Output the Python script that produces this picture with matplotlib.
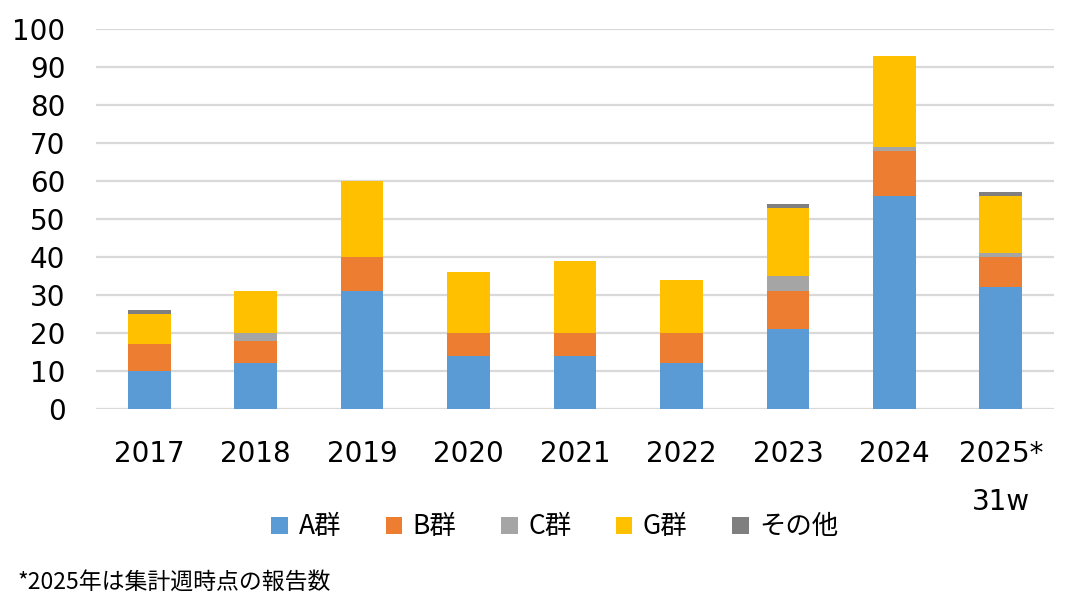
import matplotlib
matplotlib.use("Agg")
import matplotlib.pyplot as plt
import numpy as np

years = ["2017", "2018", "2019", "2020", "2021", "2022", "2023", "2024", "2025*\n31w"]
a_grp = [10, 12, 31, 14, 14, 12, 21, 56, 32]
b_grp = [7, 6, 9, 6, 6, 8, 10, 12, 8]
c_grp = [0, 2, 0, 0, 0, 0, 4, 1, 1]
g_grp = [8, 11, 20, 16, 19, 14, 18, 24, 15]
other = [1, 0, 0, 0, 0, 0, 1, 0, 1]

series_names = ["A群", "B群", "C群", "G群", "その他"]
series_vals = [a_grp, b_grp, c_grp, g_grp, other]
colors = ["#5B9BD5", "#ED7D31", "#A5A5A5", "#FFC000", "#7F7F7F"]
yticks = [0, 10, 20, 30, 40, 50, 60, 70, 80, 90, 100]
footnote = "*2025年は集計週時点の報告数"

cjk = ["Noto Sans CJK JP", "DejaVu Sans"]

fig = plt.figure(figsize=(10.82, 6.11), dpi=100)
ax = fig.add_axes([96/1082, 1-409/611, (1054-96)/1082, (409-29)/611])

x = np.arange(len(years))
bottom = np.zeros(len(years))
handles = []
for name, vals, col in zip(series_names, series_vals, colors):
    v = np.array(vals, dtype=float)
    h = ax.bar(x, v, width=0.4, bottom=bottom, color=col, label=name, zorder=3, linewidth=0)
    handles.append(h)
    bottom += v

ax.set_xlim(-0.5, len(years) - 0.5)
ax.set_ylim(0, 100)
ax.set_yticks(yticks)
ax.yaxis.grid(True, color="#D9D9D9", linewidth=1.6, zorder=0)
ax.set_axisbelow(True)
for s in ax.spines.values():
    s.set_visible(False)
ax.set_xticks(x)
ax.set_xticklabels(years, fontsize=20, family="DejaVu Sans")
for lab in ax.get_xticklabels():
    lab.set_linespacing(1.95)
ax.tick_params(axis="x", length=0, pad=22)
ax.tick_params(axis="y", length=0, pad=22, labelsize=20)

leg = fig.legend(handles=handles, labels=series_names, loc="center",
                 bbox_to_anchor=(555/1082, 1-527/611), ncol=5, frameon=False,
                 prop={"family": cjk, "size": 19}, handlelength=0.62, handleheight=0.62,
                 handletextpad=0.4, columnspacing=1.7, borderpad=0)

fig.text(18/1082, 1-582/611, footnote, ha="left", va="center", fontsize=16.5, family=cjk)

fig.savefig("out.png", dpi=100)
